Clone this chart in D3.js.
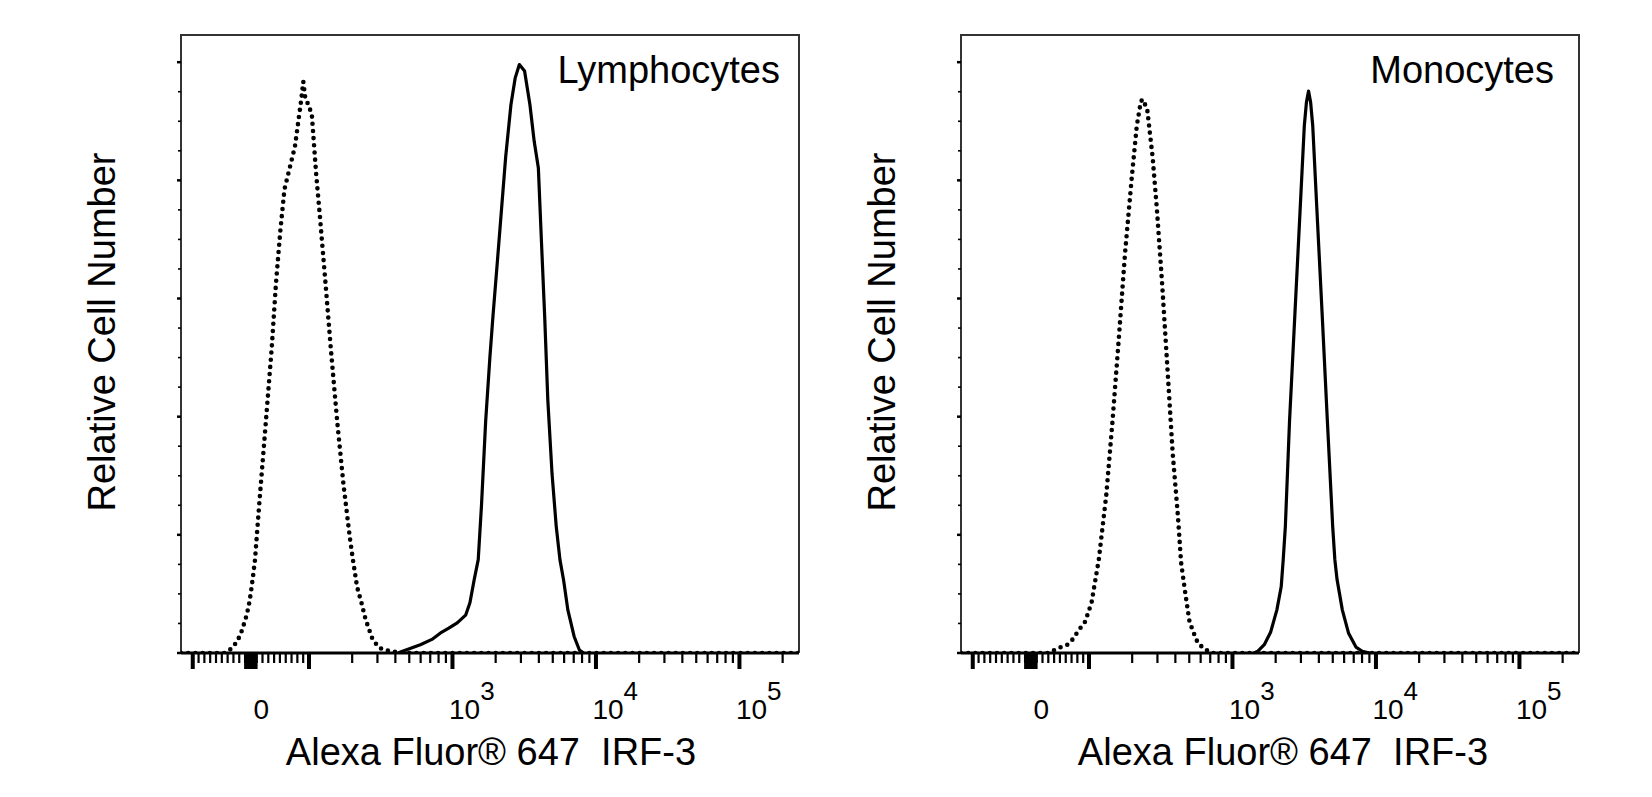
<!DOCTYPE html>
<html>
<head>
<meta charset="utf-8">
<script src="https://cdn.jsdelivr.net/npm/d3@7"></script>
<style>
  body { margin: 0; background: #fff; }
  svg { display: block; }
  text { font-family: "Liberation Sans", Arial, Helvetica, sans-serif; fill: #000; }
</style>
</head>
<body>
<svg id="chart" width="1652" height="797"></svg>
<script>
// ---- data (fluorescence intensity, relative cell number %) ----
const lymphIsoX = [-44.7, -35.6, -22.9, -15.7, -8.4, -3.1, 0.7, 4.3, 7.9, 15.1, 22.4, 29.6, 36.8, 44.0, 51.5, 58.7, 67.7, 76.7, 83.9, 87.6, 91.1, 94.8, 100.2, 105.6, 113, 120.8, 131.5, 142.9, 158.5, 175.4, 194, 204, 211, 218, 234, 250, 277, 306, 339, 401, 475];
const lymphIsoY = [0, 0.5, 1.9, 3.5, 5.7, 7.8, 10.1, 12.8, 15.7, 25.0, 33.9, 42.8, 51.7, 62.5, 71.4, 78.5, 82.1, 85.7, 91.0, 93.7, 96.7, 93.7, 92.8, 91.0, 81.2, 73.2, 62.5, 51.7, 39.2, 28.5, 19.6, 15.8, 13.5, 11.2, 8.5, 5.7, 2.6, 1.0, 0.5, 0.2, 0];

const lymphIrfX = [422, 452, 602, 725, 845, 950, 1088, 1245, 1334, 1426, 1524, 1606, 1717, 1837, 1932, 2068, 2213, 2366, 2576, 2756, 2949, 3206, 3494, 3741, 4000, 4204, 4425, 4656, 4983, 5330, 5655, 5999, 6420, 7102, 7727, 8273];
const lymphIrfY = [0, 0.3, 1.4, 2.3, 3.5, 4.2, 5.1, 6.4, 8.5, 12.3, 15.8, 25.0, 39.2, 50.0, 57.1, 66.0, 75.0, 83.9, 92.8, 97.3, 99.6, 98.5, 92.8, 86.6, 82.1, 69.6, 57.1, 42.8, 30.3, 21.4, 15.8, 12.3, 7.3, 2.8, 0.5, 0];

const monoIsoX = [30.8, 49.0, 63.5, 72.6, 83.5, 94.3, 105, 118, 133, 147, 163, 180, 200, 217, 232, 240, 257, 280, 300, 326, 355, 386, 420, 442, 473, 506, 541, 578, 641, 721];
const monoIsoY = [0, 0.85, 1.4, 2.3, 3.9, 5.3, 8.5, 15.8, 26.7, 39.2, 53.5, 67.8, 80.3, 89.2, 93.4, 93.7, 91.9, 83.9, 75.0, 62.5, 48.2, 33.9, 23.2, 15.3, 10.1, 5.3, 3.4, 1.7, 0.7, 0];

const monoIrfX = [1419, 1517, 1679, 1858, 2056, 2203, 2276, 2355, 2518, 2742, 2985, 3192, 3303, 3417, 3534, 3656, 3908, 4256, 4624, 5035, 5212, 5395, 5875, 6486, 7311, 8091, 9100];
const monoIrfY = [0, 0.3, 1.4, 3.5, 7.3, 11.2, 15.8, 21.4, 39.2, 57.1, 75.0, 89.2, 93.2, 95.1, 93.2, 89.2, 75.0, 57.1, 39.2, 21.4, 15.8, 12.5, 7.3, 3.4, 1.0, 0.3, 0];

// ---- axis ----
const xDomain = [-119.8, 262144];
const yDomain = [0, 104.6];
const majorTicks = [-100, 0, 100, 1000, 10000, 100000];
const zeroTicks = [-9, -8, -7, -6, -5, -4, -3, -2, -1, 1, 2, 3, 4, 5, 6, 7, 8, 9];
const minorTicks = [-90, -80, -70, -60, -50, -40, -30, -20, -10, 10, 20, 30, 40, 50, 60, 70, 80, 90,
  200, 300, 400, 500, 600, 700, 800, 900,
  2000, 3000, 4000, 5000, 6000, 7000, 8000, 9000,
  20000, 30000, 40000, 50000, 60000, 70000, 80000, 90000, 200000];
const tickLabels = [
  { v: 0, base: "0", exp: "" },
  { v: 1000, base: "10", exp: "3" },
  { v: 10000, base: "10", exp: "4" },
  { v: 100000, base: "10", exp: "5" }
];
const yTicks = d3.range(0, 101, 5);

const yTitle = "Relative Cell Number";
const xTitle = "Alexa Fluor\u00AE 647  IRF-3";

// biexponential-like display: linear within +-100, log above
const A = 0.405;
function biex(v) {
  const a = Math.abs(v);
  const t = a <= 100 ? A * a / 100 : A + Math.log10(a / 100);
  return v < 0 ? -t : t;
}

const svg = d3.select("#chart");
const W = 618, plotTop = 35, plotBottom = 653;

const panels = [
  { left: 181, title: "Lymphocytes", titleEnd: 599, iso: [lymphIsoX, lymphIsoY], irf: [lymphIrfX, lymphIrfY], yTitleX: 115, xTitleX: 491 },
  { left: 961, title: "Monocytes", titleEnd: 593, iso: [monoIsoX, monoIsoY], irf: [monoIrfX, monoIrfY], yTitleX: 895, xTitleX: 1283 }
];

panels.forEach(function(p, i) {
  let xT = d3.scaleLinear().domain(xDomain.map(biex)).range([0, W]);
  let x = v => xT(biex(v));
  let y = d3.scaleLinear().domain(yDomain).range([plotBottom, plotTop]);

  let g = svg.append("g").attr("transform", "translate(" + p.left + ",0)");

  // clip to frame
  g.append("clipPath").attr("id", "clip" + i)
    .append("rect").attr("x", 0).attr("y", plotTop - 5).attr("width", W).attr("height", plotBottom - plotTop + 5);

  // frame (top, left, right)
  g.append("path")
    .attr("d", "M0," + plotBottom + "V" + plotTop + "H" + W + "V" + plotBottom)
    .attr("fill", "none").attr("stroke", "#333").attr("stroke-width", 2);

  // y ticks (small, outward)
  g.append("g").selectAll("line").data(yTicks).enter().append("line")
    .attr("x1", 0).attr("x2", d => d % 20 === 0 ? -4 : -3)
    .attr("y1", d => y(d)).attr("y2", d => y(d))
    .attr("stroke", "#000").attr("stroke-width", d => d % 20 === 0 ? 2.5 : 1.6);

  // x ticks via d3 axes on the transformed scale
  let axMinor = g.append("g").attr("transform", "translate(0," + plotBottom + ")")
    .call(d3.axisBottom(xT).tickValues(minorTicks.map(biex)).tickSize(10).tickFormat(""));
  axMinor.selectAll(".tick line").attr("stroke-width", 2.2);
  axMinor.select(".domain").remove();

  let axZero = g.append("g").attr("transform", "translate(0," + plotBottom + ")")
    .call(d3.axisBottom(xT).tickValues(zeroTicks.map(biex)).tickSize(16).tickFormat(""));
  axZero.selectAll(".tick line").attr("stroke-width", 3);
  axZero.select(".domain").remove();

  let axMajor = g.append("g").attr("transform", "translate(0," + plotBottom + ")")
    .call(d3.axisBottom(xT).tickValues(majorTicks.map(biex)).tickSize(16).tickFormat(""));
  axMajor.selectAll(".tick line").attr("stroke-width", 4);
  axMajor.select(".domain").remove();

  // baseline
  g.append("line").attr("x1", 0).attr("x2", W).attr("y1", plotBottom).attr("y2", plotBottom)
    .attr("stroke", "#000").attr("stroke-width", 3);

  // tick labels
  tickLabels.forEach(function(t) {
    let txt = g.append("text").attr("y", 719).style("font-size", "28px");
    if (t.exp === "") {
      txt.attr("x", x(t.v) + 11).attr("text-anchor", "middle").text(t.base);
    } else {
      txt.attr("x", x(t.v) - 3).attr("text-anchor", "start");
      txt.append("tspan").text(t.base);
      txt.append("tspan").attr("dy", -19).style("font-size", "26px").text(t.exp);
    }
  });

  // histograms
  let line = d3.line().x(d => x(d[0])).y(d => y(d[1]));
  let isoPts = [[xDomain[0], 0]].concat(d3.zip(p.iso[0], p.iso[1]), [[xDomain[1], 0]]);
  let irfPts = d3.zip(p.irf[0], p.irf[1]);

  let curves = g.append("g").attr("clip-path", "url(#clip" + i + ")");
  curves.append("path").datum(isoPts).attr("d", line)
    .attr("fill", "none").attr("stroke", "#000").attr("stroke-width", 4.6)
    .attr("stroke-linecap", "round").attr("stroke-dasharray", "0 7.2");
  curves.append("path").datum(irfPts).attr("d", line)
    .attr("fill", "none").attr("stroke", "#000").attr("stroke-width", 3.2)
    .attr("stroke-linejoin", "round");

  // panel title
  g.append("text").attr("x", p.titleEnd).attr("y", 83)
    .attr("text-anchor", "end").style("font-size", "38px").text(p.title);

  // axis titles
  svg.append("text")
    .attr("transform", "translate(" + p.yTitleX + ",332) rotate(-90)")
    .attr("text-anchor", "middle").style("font-size", "38px").text(yTitle);
  svg.append("text")
    .attr("x", p.xTitleX).attr("y", 765)
    .attr("text-anchor", "middle").style("font-size", "38px").style("white-space", "pre")
    .text(xTitle);
});
</script>
</body>
</html>
